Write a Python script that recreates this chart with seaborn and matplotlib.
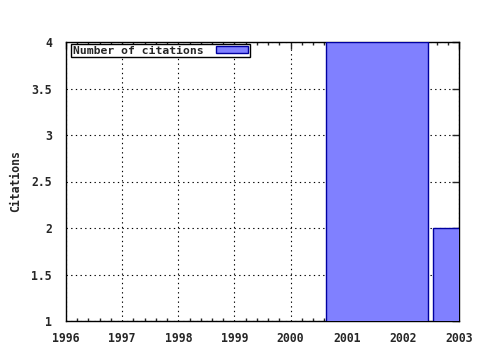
import matplotlib
matplotlib.use("Agg")
import matplotlib.pyplot as plt
import seaborn as sns
import pandas as pd
from matplotlib.ticker import MultipleLocator

# Data
bar_centers = [2001.54, 2003.45]
citations = [4, 2]
xticks = [1996, 1997, 1998, 1999, 2000, 2001, 2002, 2003]
yticks = [1, 1.5, 2, 2.5, 3, 3.5, 4]

sns.set_style("white")
plt.rcParams['font.family'] = ['DejaVu Sans Mono', 'DejaVu Sans']
plt.rcParams['font.weight'] = 'bold'

fig = plt.figure(figsize=(4.8, 3.5), dpi=100)
ax = fig.add_axes([66/480, 1-321/350, (459-66)/480, (321-42)/350])

df = pd.DataFrame({"year": bar_centers, "cit": citations})
sns.barplot(data=df, x="year", y="cit", native_scale=True, width=1.82/1.91,
            color="#8080ff", saturation=1, edgecolor="#0000a0", linewidth=1.0,
            label="Number of citations", errorbar=None, ax=ax, zorder=3)

ax.set_xlim(1996, 2003)
ax.set_ylim(1, 4)
ax.set_xticks(xticks)
ax.set_xticklabels([str(x) for x in xticks])
ax.set_yticks(yticks)
ax.set_yticklabels([f"{v:g}" for v in yticks])
ax.xaxis.set_minor_locator(MultipleLocator(0.2))
ax.set_axisbelow(True)
ax.grid(True, which="major", color="black", linestyle=(0, (1.2, 3)), linewidth=0.8)
ax.tick_params(axis="both", which="major", direction="in", length=5, width=1,
               top=True, right=True, labelsize=8.3)
ax.tick_params(axis="x", which="major", pad=8)
ax.tick_params(axis="y", which="major", pad=10)
ax.tick_params(axis="x", which="minor", direction="in", length=2.5, width=1, top=True, bottom=True)
for s in ax.spines.values():
    s.set_color("black")
    s.set_linewidth(1.0)
for lab in ax.get_xticklabels() + ax.get_yticklabels():
    lab.set_fontweight("bold")
ax.set_xlabel("")
ax.set_ylabel("Citations", fontsize=8.3, fontweight="bold", labelpad=7)

leg = ax.legend(loc="upper left", bbox_to_anchor=(5/393, 1-2/279), frameon=True,
                fancybox=False, fontsize=8.2, handlelength=2.85, handleheight=0.63,
                borderpad=0.15, borderaxespad=0.0, markerfirst=False,
                handletextpad=1.1)
leg.get_frame().set_edgecolor("black")
leg.get_frame().set_linewidth(1.0)
leg.get_frame().set_alpha(1)
for t in leg.get_texts():
    t.set_fontweight("bold")

fig.savefig("out.png", dpi=100)
